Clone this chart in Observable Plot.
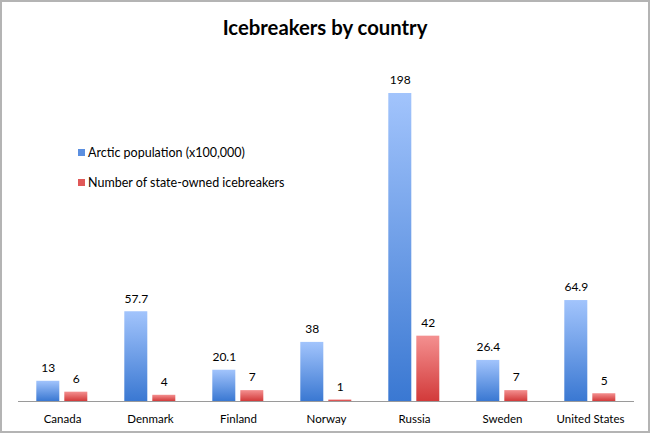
<!DOCTYPE html>
<html>
<head>
<meta charset="utf-8">
<script src="https://cdn.jsdelivr.net/npm/d3@7"></script>
<script src="https://cdn.jsdelivr.net/npm/@observablehq/plot@0.6"></script>
<style>
  html, body { margin: 0; padding: 0; background: #fff; }
  #frame { position: relative; width: 650px; height: 433px; box-sizing: border-box; border: 2px solid #b4b4b4; font-family: Lato, "Open Sans", sans-serif; }
  #title { height: 53px; line-height: 50px; text-align: center; font-weight: bold; font-size: 20.3px; color: #000; }
  #legend { position: absolute; left: 76px; top: 143px; font-size: 12.5px; color: #000; }
  .li { display: flex; align-items: center; height: 15px; margin-bottom: 15px; }
  .sw { width: 7px; height: 7px; margin-right: 3px; }
</style>
</head>
<body>
<div id="frame">
  <div id="title">Icebreakers by country</div>
  <div id="chart"></div>
  <div id="legend"></div>
</div>
<script>
const countries = ["Canada", "Denmark", "Finland", "Norway", "Russia", "Sweden", "United States"];
const seriesNames = ["Arctic population (x100,000)", "Number of state-owned icebreakers"];
const population = [13, 57.7, 20.1, 38, 198, 26.4, 64.9];
const icebreakers = [6, 4, 7, 1, 42, 7, 5];

const data = [];
countries.forEach((c, i) => {
  data.push({country: c, series: seriesNames[0], value: population[i], fill: "url(#gBlue)"});
  data.push({country: c, series: seriesNames[1], value: icebreakers[i], fill: "url(#gRed)"});
});

const chart = Plot.plot({
  width: 646,
  height: 374,
  marginLeft: 14.7,
  marginRight: 13.3,
  marginTop: 38,
  marginBottom: 28,
  style: {fontFamily: "Lato, 'Open Sans', sans-serif", fontSize: "11.5px", color: "#000", background: "transparent"},
  fx: {domain: countries, padding: 0, label: null, axis: "bottom", tickSize: 0, tickPadding: 13},
  x: {domain: seriesNames, axis: null, paddingInner: 0.172, paddingOuter: 0.608},
  y: {domain: [0, 198], axis: null},
  marks: [
    Plot.barY(data, {fx: "country", x: "series", y: "value", fill: "fill"}),
    Plot.text(data, {fx: "country", x: "series", y: "value", text: d => String(d.value), dy: -13, fill: "#000", fontSize: 12}),
    Plot.ruleY([0], {stroke: "#9a9a9a", strokeWidth: 1})
  ]
});

const svg = d3.select(chart);
const defs = svg.insert("defs", ":first-child");
const gb = defs.append("linearGradient").attr("id", "gBlue").attr("x1", 0).attr("y1", 0).attr("x2", 0).attr("y2", 1);
gb.append("stop").attr("offset", "0%").attr("stop-color", "#a2c4fc");
gb.append("stop").attr("offset", "100%").attr("stop-color", "#3a78d2");
const gr = defs.append("linearGradient").attr("id", "gRed").attr("x1", 0).attr("y1", 0).attr("x2", 0).attr("y2", 1);
gr.append("stop").attr("offset", "0%").attr("stop-color", "#f49090");
gr.append("stop").attr("offset", "100%").attr("stop-color", "#d23a3a");

document.getElementById("chart").appendChild(chart);

const legend = d3.select("#legend");
const legendColors = ["#5b8fe0", "#e05858"];
seriesNames.forEach((s, i) => {
  const row = legend.append("div").attr("class", "li");
  row.append("div").attr("class", "sw").style("background", legendColors[i]);
  row.append("span").text(s);
});
</script>
</body>
</html>
